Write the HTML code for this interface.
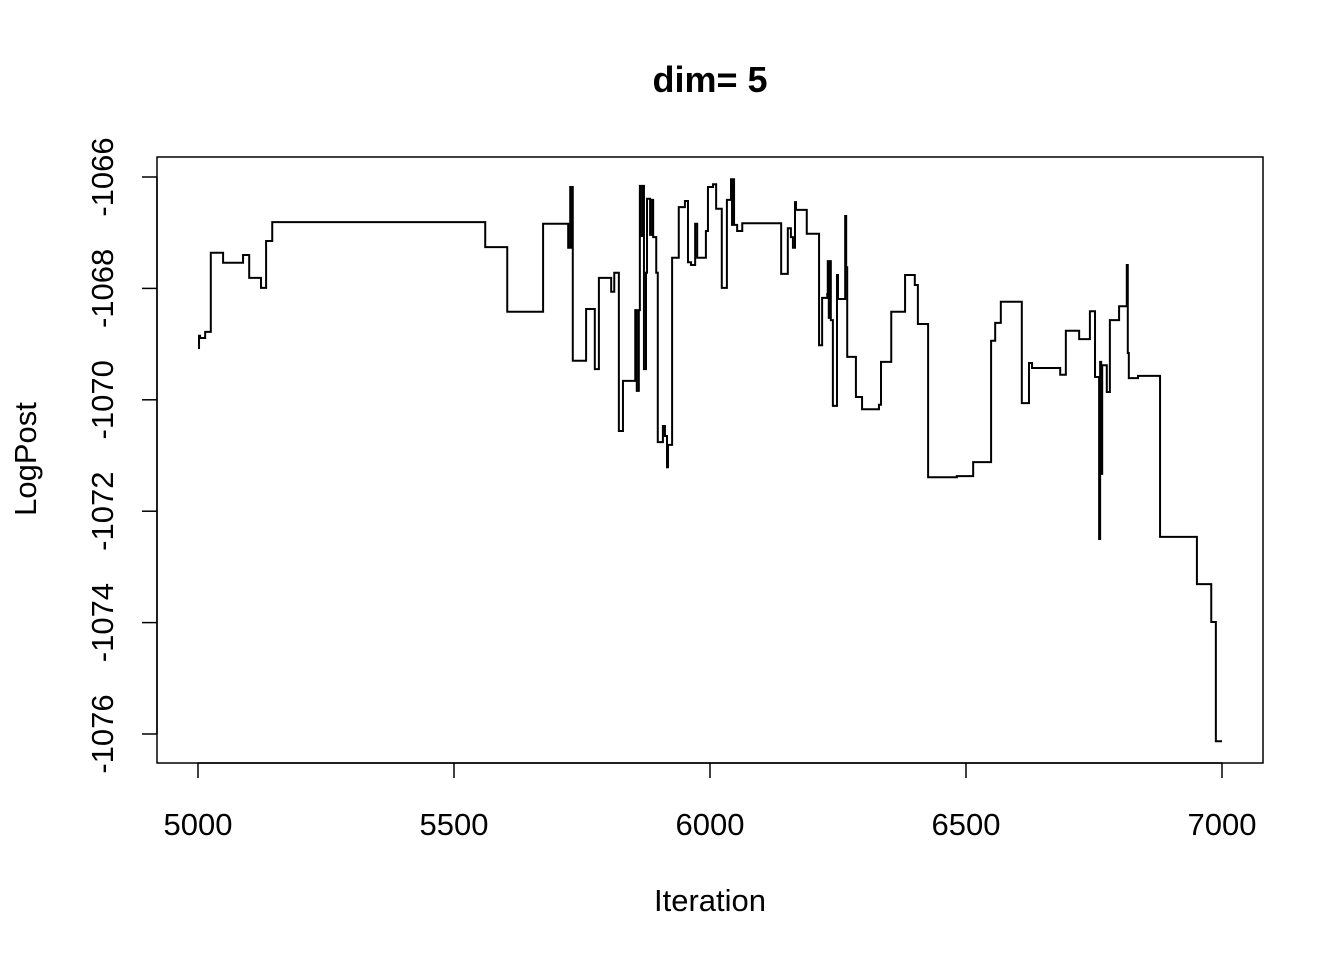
<!DOCTYPE html>
<html><head><meta charset="utf-8"><style>
html,body{margin:0;padding:0;background:#fff;}
svg{display:block;font-family:"Liberation Sans",Arial,sans-serif;}
</style></head><body>
<svg id="chart" width="1344" height="960" viewBox="0 0 1344 960" xmlns="http://www.w3.org/2000/svg">
<rect width="1344" height="960" fill="#fff"/>
<text x="710" y="92" text-anchor="middle" font-size="36" font-weight="bold">dim= 5</text>
<rect x="157" y="157" width="1106" height="606" fill="none" stroke="#000" stroke-width="1.5"/>
<g id="xaxis"></g>
<g id="yaxis"></g>
<text x="710" y="911" text-anchor="middle" font-size="31">Iteration</text>
<text transform="translate(36,459) rotate(-90)" text-anchor="middle" font-size="31">LogPost</text>
<path id="trace" fill="none" stroke="#000" stroke-width="2"/>
</svg>
<script>
const iterations = [5000,5002,5004,5014,5025,5049,5088,5100,5123,5133,5145,5561,5604,5674,5723,5727,5729,5730,5732,5758,5775,5783,5807,5813,5822,5830,5854,5857,5861,5863,5865,5869,5871,5875,5877,5883,5887,5889,5895,5898,5908,5912,5916,5918,5926,5939,5951,5957,5963,5971,5975,5992,5996,6006,6012,6023,6033,6041,6043,6045,6047,6053,6063,6139,6152,6158,6162,6166,6168,6189,6213,6219,6229,6230,6232,6234,6236,6240,6248,6250,6264,6266,6268,6285,6297,6330,6334,6354,6381,6400,6406,6426,6482,6514,6549,6557,6568,6609,6623,6629,6684,6695,6721,6742,6752,6760,6762,6764,6766,6775,6781,6799,6814,6816,6818,6836,6879,6951,6979,6988,7000];
const logPost = [-1069.07,-1068.85,-1068.89,-1068.78,-1067.36,-1067.54,-1067.40,-1067.81,-1067.99,-1067.15,-1066.81,-1067.26,-1068.42,-1066.84,-1067.27,-1066.18,-1067.27,-1066.18,-1069.30,-1068.37,-1069.45,-1067.81,-1068.06,-1067.72,-1070.56,-1069.66,-1068.39,-1069.84,-1068.39,-1066.16,-1067.06,-1066.16,-1069.45,-1067.72,-1066.39,-1067.04,-1066.41,-1067.08,-1067.72,-1070.76,-1070.47,-1070.65,-1071.21,-1070.81,-1067.45,-1066.54,-1066.43,-1067.53,-1067.58,-1066.84,-1067.45,-1066.97,-1066.18,-1066.13,-1066.57,-1067.99,-1066.41,-1066.04,-1066.86,-1066.04,-1066.86,-1066.97,-1066.83,-1067.74,-1066.92,-1067.08,-1067.27,-1066.45,-1066.59,-1067.02,-1069.02,-1068.17,-1068.10,-1067.51,-1068.53,-1067.51,-1068.57,-1070.11,-1067.76,-1068.19,-1066.70,-1067.62,-1069.23,-1069.95,-1070.17,-1070.09,-1069.32,-1068.42,-1067.76,-1067.94,-1068.64,-1071.39,-1071.37,-1071.12,-1068.94,-1068.62,-1068.24,-1070.06,-1069.34,-1069.43,-1069.55,-1068.76,-1068.91,-1068.41,-1069.59,-1072.50,-1069.32,-1071.33,-1069.38,-1069.86,-1068.57,-1068.32,-1067.58,-1069.16,-1069.61,-1069.57,-1072.46,-1073.31,-1073.99,-1076.13,-1076.13];
const xTicks = [5000,5500,6000,6500,7000];
const yTicks = [-1066,-1068,-1070,-1072,-1074,-1076];

const NS = "http://www.w3.org/2000/svg";
function xScale(v){ return 198 + (v - 5000) * (1024 / 2000); }
function yScale(v){ return 177 + (-1066 - v) * (557 / 10); }

let d = "M" + xScale(iterations[0]) + "," + yScale(logPost[0]);
for (let i = 1; i < iterations.length; i++) {
  d += " H" + xScale(iterations[i]).toFixed(2) + " V" + yScale(logPost[i]).toFixed(2);
}
document.getElementById("trace").setAttribute("d", d);

const xa = document.getElementById("xaxis");
const xl = document.createElementNS(NS, "line");


xl.setAttribute("x1", xScale(xTicks[0])); xl.setAttribute("x2", xScale(xTicks[xTicks.length-1]));
xl.setAttribute("y1", 763); xl.setAttribute("y2", 763); xl.setAttribute("stroke", "#000"); xl.setAttribute("stroke-width", "1.5");
xa.appendChild(xl);
xTicks.forEach(t => {
  const tk = document.createElementNS(NS, "line");
  
  
  tk.setAttribute("x1", xScale(t)); tk.setAttribute("x2", xScale(t));
  tk.setAttribute("y1", 763); tk.setAttribute("y2", 778); tk.setAttribute("stroke", "#000"); tk.setAttribute("stroke-width", "1.5");
  xa.appendChild(tk);
  const lb = document.createElementNS(NS, "text");
  
  
  lb.setAttribute("x", xScale(t)); lb.setAttribute("y", 835);
  lb.setAttribute("text-anchor", "middle"); lb.setAttribute("font-size", "31");
  lb.textContent = t;
  xa.appendChild(lb);
});

const ya = document.getElementById("yaxis");
const yl = document.createElementNS(NS, "line");


yl.setAttribute("x1", 157); yl.setAttribute("x2", 157);
yl.setAttribute("y1", yScale(yTicks[0])); yl.setAttribute("y2", yScale(yTicks[yTicks.length-1]));
yl.setAttribute("stroke", "#000"); yl.setAttribute("stroke-width", "1.5");
ya.appendChild(yl);
yTicks.forEach(t => {
  const tk = document.createElementNS(NS, "line");
  
  
  tk.setAttribute("x1", 142); tk.setAttribute("x2", 157);
  tk.setAttribute("y1", yScale(t)); tk.setAttribute("y2", yScale(t));
  tk.setAttribute("stroke", "#000"); tk.setAttribute("stroke-width", "1.5");
  ya.appendChild(tk);
  const lb = document.createElementNS(NS, "text");
  
  
  lb.setAttribute("transform", "translate(113," + yScale(t) + ") rotate(-90)");
  lb.setAttribute("text-anchor", "middle"); lb.setAttribute("font-size", "31");
  lb.textContent = t;
  ya.appendChild(lb);
});
</script>
</body></html>
